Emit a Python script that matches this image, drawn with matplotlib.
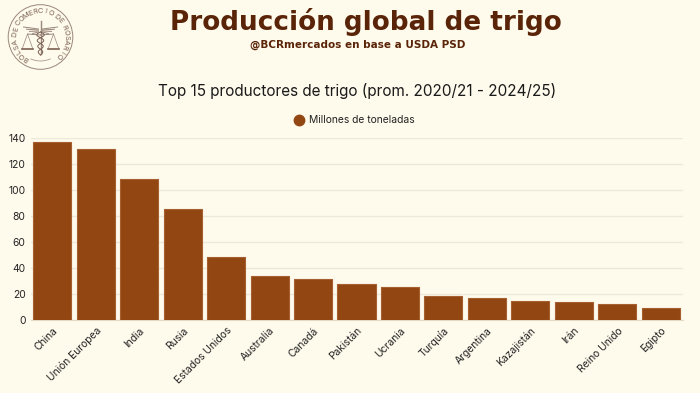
import numpy as np
import matplotlib
matplotlib.use("Agg")
import matplotlib.pyplot as plt
from matplotlib.patches import Circle, Arc
from matplotlib.lines import Line2D

paises = ["China", "Unión Europea", "India", "Rusia", "Estados Unidos", "Australia", "Canadá",
          "Pakistán", "Ucrania", "Turquía", "Argentina", "Kazajistán", "Irán", "Reino Unido", "Egipto"]
produccion = [137, 131.5, 109, 85.3, 48.4, 33.9, 31.9, 27.5, 25.2, 18.2, 17, 14.4, 13.6, 12.6, 9]
yticks = [0, 20, 40, 60, 80, 100, 120, 140]
sello = "BOLSA DE COMERCIO DE ROSARIO"

W, H = 700, 393
fondo = "#FEFAEC"
marron = "#924713"
oscuro = "#5A2408"
plt.rcParams["font.family"] = ["Inter", "DejaVu Sans"]

fig = plt.figure(figsize=(W / 100, H / 100), dpi=100, facecolor=fondo)

# Bars
ax = fig.add_axes([30.5 / W, 1 - 320 / H, 652 / W, 181.7 / H], facecolor=fondo)
ax.bar(range(len(paises)), produccion, width=0.875, color=marron, edgecolor="#A65F30",
       linewidth=0.8, joinstyle="round", zorder=3)
ax.set_xlim(-0.5, 14.5)
ax.set_ylim(0, 140)
ax.set_yticks(yticks)
ax.set_xticks(range(len(paises)))
ax.set_xticklabels(paises, rotation=45, ha="right", rotation_mode="anchor", fontsize=7.4, color="#222222")
ax.tick_params(axis="both", length=0, labelsize=7.4, labelcolor="#222222")
ax.tick_params(axis="x", pad=4)
ax.tick_params(axis="y", pad=3.5)
ax.grid(axis="y", color="#EDE8D8", linewidth=1, zorder=0)
for s in ax.spines.values():
    s.set_visible(False)
ax.spines["bottom"].set_visible(True)
ax.spines["bottom"].set_color("#E4DAC4")

# Texts in pixel positions
def px(x, y):
    return x / W, 1 - y / H

fig.text(*px(366, 22), "Producción global de trigo", ha="center", va="center", fontsize=18.9,
         fontweight="bold", color=oscuro, family=["DejaVu Sans"])
fig.text(*px(358, 45), "@BCRmercados en base a USDA PSD", ha="center", va="center", fontsize=7.5,
         fontweight="bold", color=oscuro, family=["DejaVu Sans"])
fig.text(*px(357, 91), "Top 15 productores de trigo (prom. 2020/21 - 2024/25)", ha="center", va="center",
         fontsize=11, color="#1A1A1A")
ax.legend(handles=[Line2D([], [], marker="o", ls="", color=marron, markersize=7.5)],
          labels=["Millones de toneladas"], loc="center", bbox_to_anchor=(0.4925, 1.1), frameon=False,
          fontsize=7.4, handletextpad=0.0, labelcolor="#222222")

# Seal
sx = fig.add_axes([0, 0, 1, 1], facecolor="none")
sx.set_xlim(0, W)
sx.set_ylim(H, 0)
sx.axis("off")
cx, cy = 40.5, 37
col = "#9A877B"
sx.add_patch(Circle((cx, cy), 32.3, fill=False, ec=col, lw=0.7))
sx.add_patch(Arc((cx, cy), 48, 48, theta1=65, theta2=115, ec=col, lw=0.5))
# letters spaced by rough width, blanks count half
anchos = [0.5 if c == " " else 1.0 for c in sello]
pasos = np.cumsum([0] + [(p + q) / 2 for p, q in zip(anchos[:-1], anchos[1:])])
for ch, paso in zip(sello, pasos):
    a = np.radians(-146 + 281 * paso / pasos[-1])
    sx.text(cx + 26.5 * np.sin(a), cy - 26.5 * np.cos(a), ch, ha="center", va="center_baseline", fontsize=5.3,
            rotation=-np.degrees(a), rotation_mode="anchor", color="#7A6052")
# wings, staff, snake and scales
sx.plot([cx, cx], [cy - 16, cy + 17], color=col, lw=1)
for d in (-1, 1):
    for k in range(4):
        sx.plot([cx + d * 2, cx + d * (17 - 3 * k)], [cy - 8 + k, cy - 10 + 2.2 * k], color=col, lw=0.7)
    x0 = cx + d * 13
    sx.plot([cx, x0], [cy - 2, cy - 3], color=col, lw=0.7)
    sx.plot([x0 - 5, x0, x0 + 5], [cy + 11, cy - 3, cy + 11], color=col, lw=0.5)
    sx.plot([x0 - 5.5, x0 + 5.5], [cy + 12, cy + 12], color="#7A6052", lw=1.2)
t = np.linspace(0, 1, 60)
for d in (-1, 1):
    sx.plot(cx + d * 4 * np.sin(t * 4 * np.pi) * (1 - 0.5 * t), cy - 5 + 23 * t, color="#7A6052", lw=0.7)

fig.savefig("out.png", dpi=100, facecolor=fondo)
